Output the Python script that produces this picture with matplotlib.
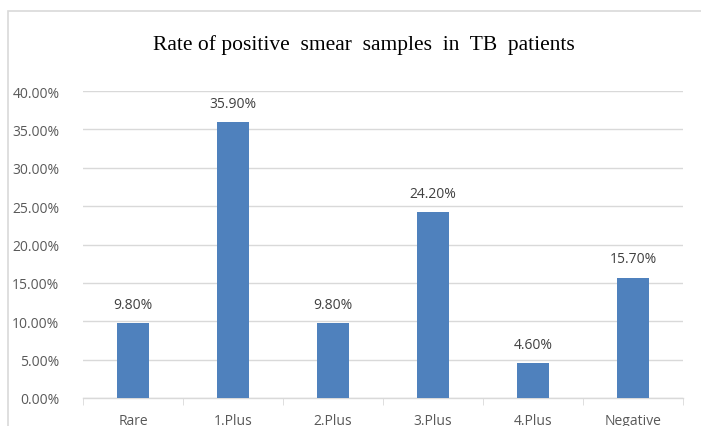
import matplotlib
matplotlib.use("Agg")
import matplotlib.pyplot as plt
from matplotlib.patches import Rectangle
from matplotlib.ticker import FuncFormatter, MultipleLocator

categories = ["Rare", "1.Plus", "2.Plus", "3.Plus", "4.Plus", "Negative"]
values = [9.80, 35.90, 9.80, 24.20, 4.60, 15.70]
title = "Rate of positive  smear  samples  in  TB  patients"

W, H = 701, 427
fig = plt.figure(figsize=(W / 100, H / 100), dpi=100)
fig.patch.set_facecolor("white")

# outer chart frame
fig.patches.append(Rectangle((8 / W, -0.05), 1.2, 1 - 12 / H + 0.05,
                             transform=fig.transFigure, fill=False,
                             edgecolor="#d9d9d9", linewidth=1.2))

ax = fig.add_axes([83 / W, 1 - 399 / H, (683 - 83) / W, (399 - 92) / H])
x = list(range(len(categories)))
ax.bar(x, values, width=0.32, color="#4f81bd", zorder=3)
ax.set_xlim(-0.5, len(categories) - 0.5)
ax.set_ylim(0, 40)
ax.yaxis.set_major_locator(MultipleLocator(5))
ax.yaxis.set_major_formatter(FuncFormatter(lambda v, p: f"{v:.2f}%"))
ax.grid(axis="y", color="#d9d9d9", linewidth=1, zorder=0)

for s in ["top", "right", "left"]:
    ax.spines[s].set_visible(False)
ax.spines["bottom"].set_color("#d9d9d9")
ax.spines["bottom"].set_linewidth(1)

ax.set_xticks(x)
ax.set_xticklabels(categories)
ax.set_xticks([i - 0.5 for i in range(len(categories) + 1)], minor=True)
ax.tick_params(axis="x", which="major", length=0, pad=11)
ax.tick_params(axis="x", which="minor", length=5, color="#d9d9d9")
ax.tick_params(axis="y", length=0, pad=17)

for lab in ax.get_xticklabels() + ax.get_yticklabels():
    lab.set_fontfamily("Open Sans")
    lab.set_fontsize(10)
    lab.set_color("#595959")

for xi, v in zip(x, values):
    ax.annotate(f"{v:.2f}%", (xi, v), xytext=(0, 8), textcoords="offset points",
                ha="center", va="bottom", fontsize=10, color="#404040",
                family="Open Sans")

fig.text(364 / W, 1 - 45 / H, title, ha="center", va="center",
         fontsize=15.5, family="Liberation Serif", color="#000000")

fig.savefig("out.png", dpi=100)
